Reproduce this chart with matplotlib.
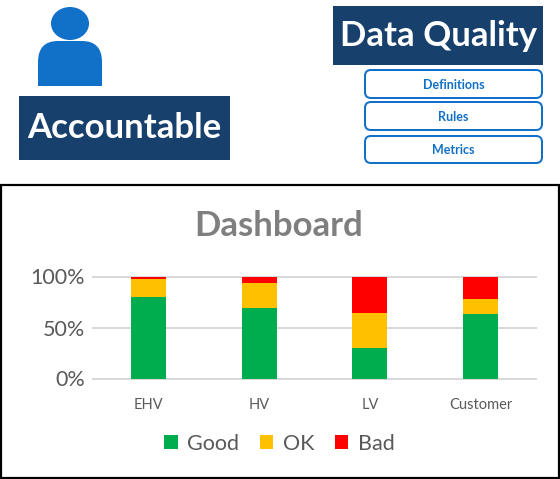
import matplotlib
matplotlib.use("Agg")
import matplotlib.pyplot as plt
from matplotlib.patches import Rectangle, Ellipse, FancyBboxPatch, PathPatch
from matplotlib.path import Path

plt.rcParams['font.family'] = ['Lato', 'DejaVu Sans']

categories = ["EHV", "HV", "LV", "Customer"]
good = [79.5, 69.5, 30, 63.5]
ok = [18.5, 24.5, 34.5, 14.5]
bad = [2, 6, 35.5, 22]
series_names = ["Good", "OK", "Bad"]
series_colors = ["#00AD4E", "#FFC000", "#FF0000"]
y_ticks = [0, 50, 100]
y_tick_labels = ["0%", "50%", "100%"]
button_labels = ["Definitions", "Rules", "Metrics"]

W, H = 560, 479
fig = plt.figure(figsize=(W / 100, H / 100), dpi=100)
px = 0.72

# Overlay in pixel coordinates for the infographic shapes
bg = fig.add_axes([0, 0, 1, 1])
bg.set_xlim(0, W)
bg.set_ylim(H, 0)
bg.axis("off")

NAVY = "#17406D"
BLUE = "#1170C8"

bg.add_patch(Rectangle((1, 185), 558, 293, fc="white", ec="black", lw=2.2 * px))

# Person icon
bg.add_patch(Ellipse((70, 23.5), 38, 33, fc=BLUE, ec="none"))
body = Path([(38, 86), (38, 41), (102, 41), (102, 86), (38, 86)],
            [Path.MOVETO, Path.LINETO, Path.LINETO, Path.LINETO, Path.CLOSEPOLY])
body = Path(
    [(38, 86), (38, 62), (38, 41), (58, 41), (82, 41), (102, 41), (102, 62), (102, 86), (38, 86)],
    [Path.MOVETO, Path.LINETO, Path.CURVE3, Path.CURVE3, Path.LINETO, Path.CURVE3, Path.CURVE3,
     Path.LINETO, Path.CLOSEPOLY])
bg.add_patch(PathPatch(body, fc=BLUE, ec="none"))

# Title boxes
bg.add_patch(Rectangle((19, 96), 211, 64, fc=NAVY, ec="none"))
bg.text(124.5, 128, "Accountable", color="white", fontsize=25, fontweight="bold",
        ha="center", va="center")
bg.add_patch(Rectangle((333, 6), 210, 59, fc=NAVY, ec="none"))
bg.text(438.5, 36, "Data Quality", color="white", fontsize=25, fontweight="bold",
        ha="center", va="center")

# Buttons
for label, (top, bottom) in zip(button_labels, [(70, 98), (102, 130), (136, 163)]):
    bg.add_patch(FancyBboxPatch((369, top + 4), 169, bottom - top - 8,
                                boxstyle="round,pad=4,rounding_size=6",
                                fc="white", ec=BLUE, lw=2 * px))
    bg.text(453.5, (top + bottom) / 2 + 0.5, label, color=BLUE, fontsize=9, fontweight="bold",
            ha="center", va="center")

bg.text(279, 226, "Dashboard", color="#7F7F7F", fontsize=25, fontweight="bold",
        ha="center", va="center")

# Chart
ax = fig.add_axes([93 / W, 1 - 378.5 / H, 443 / W, 102 / H])
ax.patch.set_alpha(0)
x = list(range(len(categories)))
bottom = [0] * len(x)
for name, values, color in zip(series_names, [good, ok, bad], series_colors):
    ax.bar(x, values, width=35 / 110.75, bottom=bottom, color=color, label=name, zorder=3)
    bottom = [b + v for b, v in zip(bottom, values)]
ax.set_xlim(-0.5, 3.5)
ax.set_ylim(0, 100)
ax.set_yticks(y_ticks, y_tick_labels)
ax.set_xticks(x, categories)
ax.tick_params(axis="y", length=0, labelsize=15.5, labelcolor="#595959", pad=6)
ax.tick_params(axis="x", length=0, labelsize=10.5, labelcolor="#595959", pad=14)
ax.grid(axis="y", color="#D9D9D9", lw=2 * px, zorder=0)
ax.set_axisbelow(True)
for s in ax.spines.values():
    s.set_visible(False)
for gl in ax.get_ygridlines():
    gl.set_clip_on(False)

leg = fig.legend(loc="center", bbox_to_anchor=(279.5 / W, 1 - 444 / H), ncol=3, frameon=False,
                 fontsize=15.5, labelcolor="#595959", handlelength=0.62, handleheight=0.62,
                 handletextpad=0.45, columnspacing=0.95, borderpad=0)

fig.savefig("out.png", dpi=100)
